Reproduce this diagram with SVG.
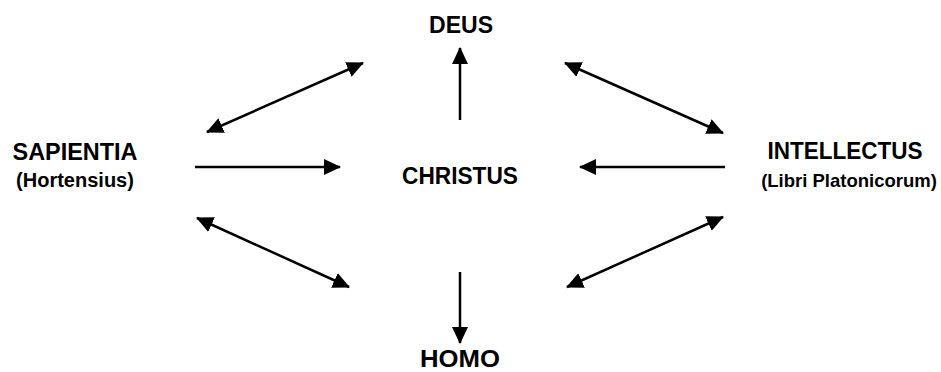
<svg xmlns="http://www.w3.org/2000/svg" width="941" height="372" viewBox="0 0 941 372">
  <style>
    .t { font-family: "Liberation Sans", Arial, sans-serif; font-weight: bold; fill: #000; text-anchor: middle; }
    .big { font-size: 23px; }
    .small { font-size: 20px; }
    .c line { stroke: #000; stroke-width: 2.5; fill: none; }
  </style>
  <defs>
    <marker id="ah" markerUnits="userSpaceOnUse" markerWidth="17" markerHeight="16" viewBox="0 0 17 16" refX="16" refY="8" orient="auto-start-reverse">
      <path d="M0,0 L17,8 L0,16 z" fill="#000"/>
    </marker>
  </defs>
  <rect width="941" height="372" fill="#fff"/>
  <g id="deus"><text class="t big" x="461" y="33" textLength="64" lengthAdjust="spacingAndGlyphs">DEUS</text></g>
  <g id="christus"><text class="t big" x="460" y="184" textLength="116" lengthAdjust="spacingAndGlyphs">CHRISTUS</text></g>
  <g id="homo"><text class="t big" x="460" y="367" textLength="80" lengthAdjust="spacingAndGlyphs">HOMO</text></g>
  <g id="sapientia">
    <text class="t big" x="75" y="160" textLength="125" lengthAdjust="spacingAndGlyphs">SAPIENTIA</text>
    <text class="t small" x="75" y="187">(Hortensius)</text>
  </g>
  <g id="intellectus">
    <text class="t big" x="845" y="159" textLength="155" lengthAdjust="spacingAndGlyphs">INTELLECTUS</text>
    <text class="t" x="849" y="187" style="font-size:18.5px">(Libri Platonicorum)</text>
  </g>
  <g class="c" id="connectors">
    <line x1="460" y1="120" x2="460" y2="48" marker-end="url(#ah)"/>
    <line x1="460" y1="272" x2="460" y2="343" marker-end="url(#ah)"/>
    <line x1="195" y1="167" x2="340" y2="167" marker-end="url(#ah)"/>
    <line x1="725" y1="167" x2="580" y2="167" marker-end="url(#ah)"/>
    <line x1="207" y1="132" x2="363" y2="63" marker-start="url(#ah)" marker-end="url(#ah)"/>
    <line x1="565" y1="63" x2="723" y2="133" marker-start="url(#ah)" marker-end="url(#ah)"/>
    <line x1="197" y1="218" x2="349" y2="287" marker-start="url(#ah)" marker-end="url(#ah)"/>
    <line x1="567" y1="287" x2="723" y2="217" marker-start="url(#ah)" marker-end="url(#ah)"/>
  </g>
</svg>
